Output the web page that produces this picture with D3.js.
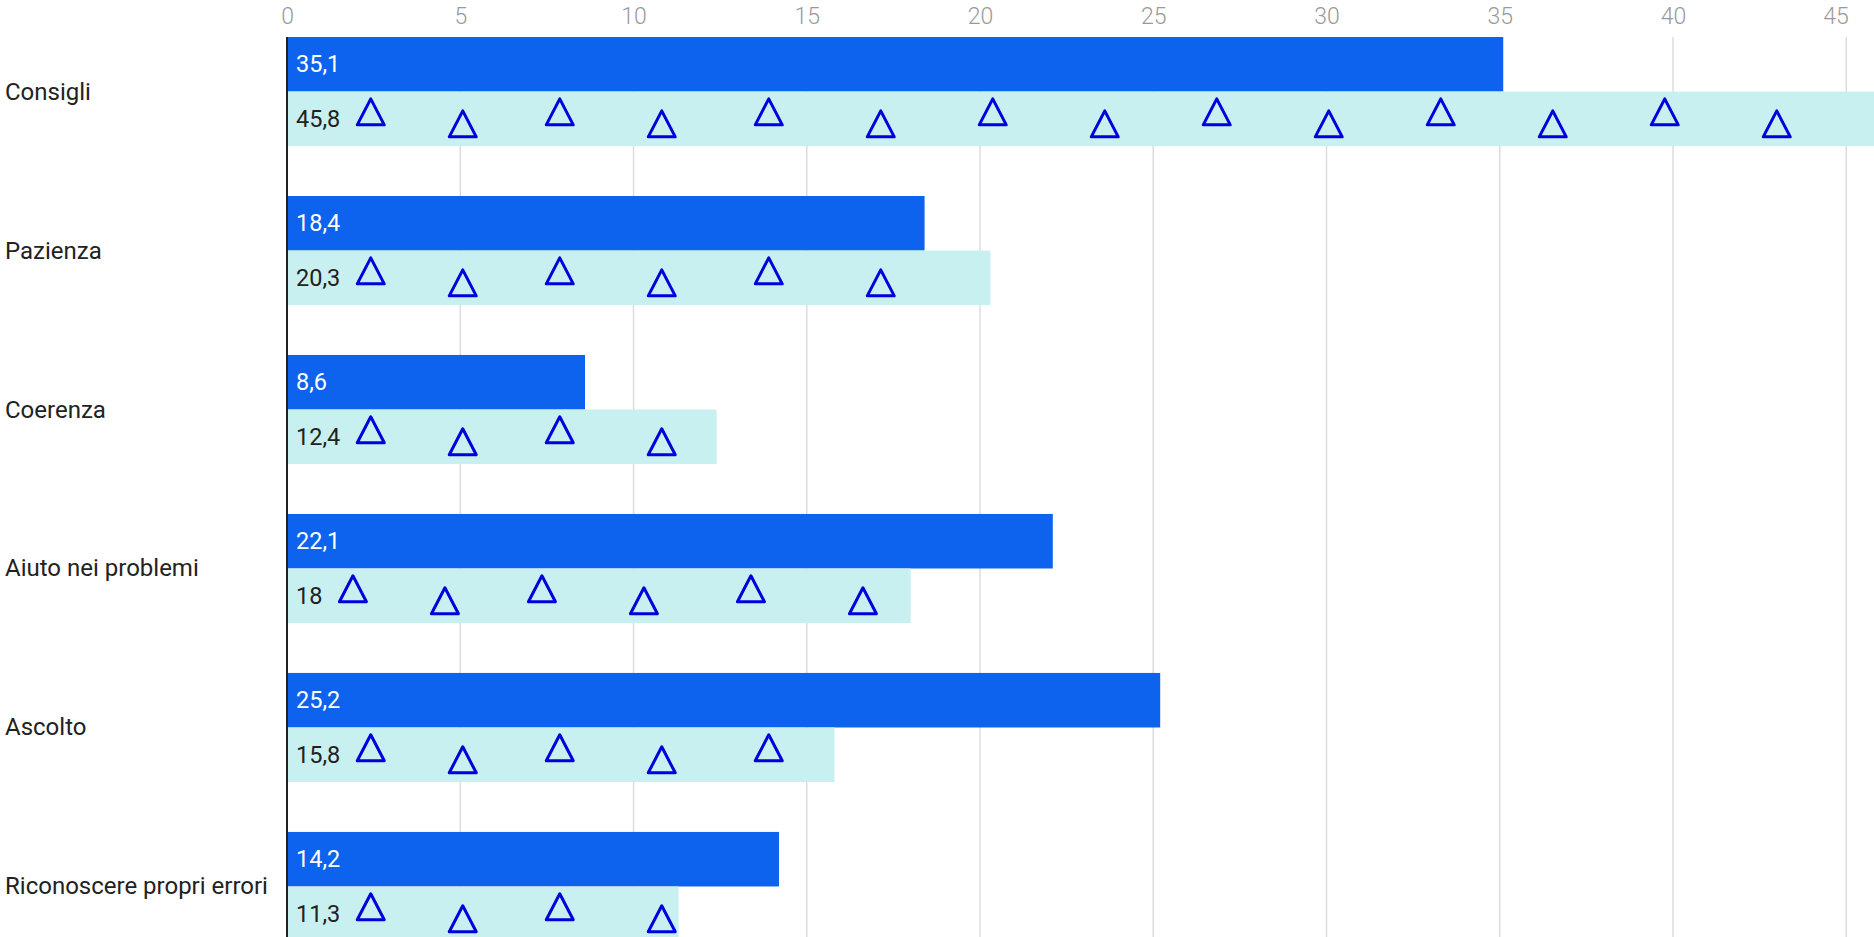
<!DOCTYPE html>
<html>
<head>
<meta charset="utf-8">
<script src="https://cdn.jsdelivr.net/npm/d3@7"></script>
<style>
  html, body { margin: 0; padding: 0; background: #ffffff; overflow: hidden; }
  svg { display: block; font-family: Roboto, "Noto Sans", sans-serif; }
</style>
</head>
<body>
<svg id="chart" width="1874" height="937"></svg>
<script>
// ---- data ----
const categories = ["Consigli", "Pazienza", "Coerenza", "Aiuto nei problemi", "Ascolto", "Riconoscere propri errori"];
const seriesA = [35.1, 18.4, 8.6, 22.1, 25.2, 14.2];
const seriesB = [45.8, 20.3, 12.4, 18.0, 15.8, 11.3];
const tickValues = [0, 5, 10, 15, 20, 25, 30, 35, 40, 45];
const seriesKeys = ["a", "b"];

// ---- layout ----
const W = 1874, H = 937;
const plotLeft = 287, plotTop = 37;
const svg = d3.select("#chart");

const x = d3.scaleLinear().domain([0, d3.max(seriesB.concat(seriesA))]).range([plotLeft, W]);
const y0 = d3.scaleBand().domain(categories).range([plotTop, 941]).paddingInner(0.314).paddingOuter(0);
const y1 = d3.scaleBand().domain(seriesKeys).range([0, y0.bandwidth()]).padding(0);

const colors = { a: "#0d63ee", b: "#c9f0f0" };
const fmt = v => String(v).replace(".", ",");

// gridlines
svg.append("g").selectAll("line").data(tickValues.filter(d => d > 0)).join("line")
  .attr("x1", d => x(d)).attr("x2", d => x(d))
  .attr("y1", plotTop).attr("y2", H)
  .attr("stroke", "#dddddd").attr("stroke-width", 1.5);

// top axis labels
const axis = d3.axisTop(x).tickValues(tickValues).tickSize(0).tickFormat(d3.format("d"));
const ax = svg.append("g").attr("transform", `translate(0, 23.5)`).call(axis);
ax.select(".domain").remove();
ax.selectAll("text")
  .attr("fill", "#9a9a9a").attr("font-size", 23).attr("font-weight", 300)
  .attr("font-family", "Roboto, sans-serif")
  .attr("dy", 0).attr("y", 0)
  .attr("text-anchor", (d, i) => i === tickValues.length - 1 ? "end" : "middle")
  .attr("dx", (d, i) => i === tickValues.length - 1 ? 2 : 0);

const rows = categories.map((c, i) => ({ c, a: seriesA[i], b: seriesB[i] }));

const groups = svg.append("g").selectAll("g").data(rows).join("g")
  .attr("transform", d => `translate(0, ${y0(d.c)})`);

// bars
groups.selectAll("rect").data(d => seriesKeys.map(k => ({ k, v: d[k] }))).join("rect")
  .attr("x", x(0)).attr("y", d => y1(d.k))
  .attr("width", d => x(d.v) - x(0)).attr("height", y1.bandwidth())
  .attr("fill", d => colors[d.k]);

// value labels + decal
groups.each(function(d) {
  const g = d3.select(this);
  g.append("text")
    .attr("x", x(0) + 9).attr("y", y1("a") + y1.bandwidth() / 2)
    .attr("dominant-baseline", "central")
    .attr("fill", "#ffffff").attr("font-size", 23.5)
    .text(fmt(d.a));
  const tb = g.append("text")
    .attr("x", x(0) + 9).attr("y", y1("b") + y1.bandwidth() / 2)
    .attr("dominant-baseline", "central")
    .attr("fill", "#222222").attr("font-size", 23.5)
    .text(fmt(d.b));
  // decal triangles on the light bar
  const labelEnd = x(0) + 9 + tb.node().getComputedTextLength();
  const barEnd = x(d.b);
  const tw = 27, th = 26, half = tw / 2;
  const barTop = y1("b");
  const pts = [];
  let cx = labelEnd + 17 + half, i = 0;
  while (cx + half <= barEnd) {
    pts.push({ cx, t: barTop + (i % 2 === 0 ? 7.3 : 19.3) });
    cx += Math.min(112, 92 + 5 * i);
    i++;
  }
  g.selectAll("path.tri").data(pts).join("path")
    .attr("class", "tri")
    .attr("d", p => `M${p.cx},${p.t}L${p.cx + half},${p.t + th}L${p.cx - half},${p.t + th}Z`)
    .attr("fill", "none").attr("stroke", "#0000dd").attr("stroke-width", 3)
    .attr("stroke-linejoin", "round");
});

// category labels
svg.append("g").selectAll("text").data(categories).join("text")
  .attr("x", 5).attr("y", d => y0(d) + y0.bandwidth() / 2)
  .attr("dominant-baseline", "central")
  .attr("fill", "#222222").attr("font-size", 24)
  .text(d => d);

// vertical axis line
svg.append("line")
  .attr("x1", x(0)).attr("x2", x(0)).attr("y1", plotTop).attr("y2", H)
  .attr("stroke", "#222222").attr("stroke-width", 2);
</script>
</body>
</html>
